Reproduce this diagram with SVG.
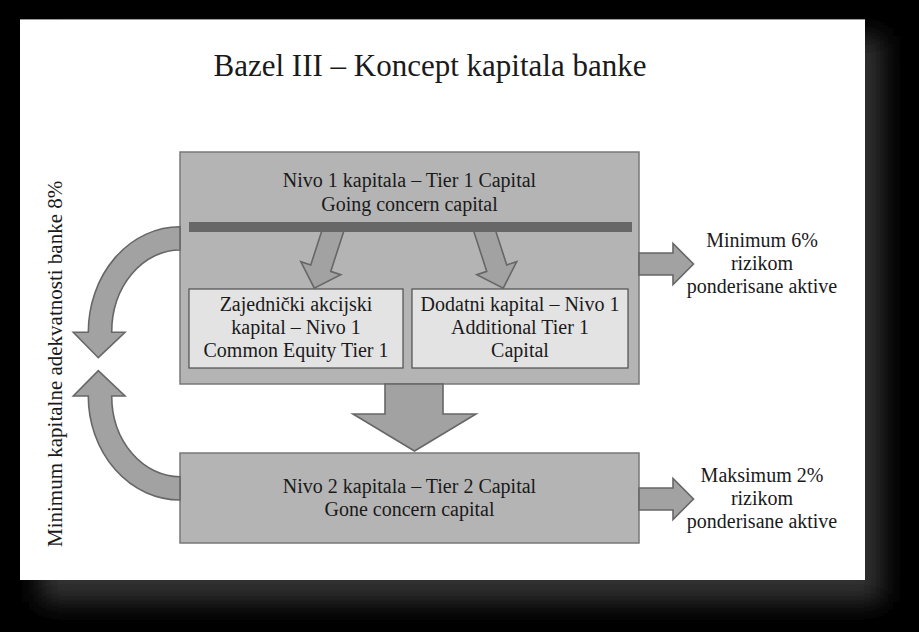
<svg xmlns="http://www.w3.org/2000/svg" width="919" height="632" viewBox="0 0 919 632">
<defs>
<filter id="shadow" x="-10%" y="-10%" width="130%" height="130%">
<feGaussianBlur stdDeviation="12"/>
</filter>
<style>
text{font-family:"Liberation Serif","Times New Roman",serif;fill:#1a1a1a;}
.t{font-size:20px;text-anchor:middle;}
.title{font-size:31px;text-anchor:middle;}
.box{fill:#b4b4b4;stroke:#787878;stroke-width:1.5;}
.inner{fill:#e3e3e3;stroke:#4e4e4e;stroke-width:1.2;}
.arr{fill:#a2a2a2;stroke:#676767;stroke-width:1.6;stroke-linejoin:miter;}
.bar{fill:#676767;}
</style>
</defs>
<rect x="0" y="0" width="919" height="632" fill="#000"/>
<rect x="40" y="36" width="842" height="566" fill="#333" filter="url(#shadow)"/>
<rect x="20" y="19" width="845" height="561" fill="#fff"/>
<line x1="20" y1="19.5" x2="865" y2="19.5" stroke="#999" stroke-width="1"/>

<text class="title" x="430" y="76">Bazel III – Koncept kapitala banke</text>

<g id="tier1">
<rect class="box" x="180" y="152" width="459" height="232"/>
<text class="t" x="409.5" y="187">Nivo 1 kapitala – Tier 1 Capital</text>
<text class="t" x="409.5" y="211">Going concern capital</text>
</g>

<g id="cet1">
<rect class="inner" x="189" y="289" width="214" height="79"/>
<text class="t" x="296" y="311">Zajednički akcijski</text>
<text class="t" x="296" y="334">kapital – Nivo 1</text>
<text class="t" x="296" y="357">Common Equity Tier 1</text>
</g>

<g id="at1">
<rect class="inner" x="412" y="289" width="216" height="79"/>
<text class="t" x="520" y="311">Dodatni kapital – Nivo 1</text>
<text class="t" x="520" y="334">Additional Tier 1</text>
<text class="t" x="520" y="357">Capital</text>
</g>

<g id="tier2">
<rect class="box" x="180" y="453" width="459" height="90"/>
<text class="t" x="409.5" y="493">Nivo 2 kapitala – Tier 2 Capital</text>
<text class="t" x="409.5" y="516">Gone concern capital</text>
</g>

<g id="min6">
<text class="t" x="762" y="247">Minimum 6%</text>
<text class="t" x="762" y="270">rizikom</text>
<text class="t" x="762" y="293">ponderisane aktive</text>
</g>

<g id="max2">
<text class="t" x="762" y="482">Maksimum 2%</text>
<text class="t" x="762" y="505">rizikom</text>
<text class="t" x="762" y="528">ponderisane aktive</text>
</g>

<g id="car8">
<text class="t" style="text-anchor:start;font-size:21px" transform="translate(62,547) rotate(-90)">Minimum kapitalne adekvatnosti banke 8%</text>
</g>

<g id="connectors">
<path class="arr" transform="translate(332.5,232) rotate(18)" d="M -10.5,-6 L 10.5,-6 L 10.5,38 L 21,38 L 0,59 L -21,38 L -10.5,38 Z"/>
<path class="arr" transform="translate(485,232) rotate(-18)" d="M -10.5,-6 L 10.5,-6 L 10.5,38 L 21,38 L 0,59 L -21,38 L -10.5,38 Z"/>
<path class="arr" d="M 639,253 H 673 V 243.5 L 693.5,264 L 673,284.5 V 275 H 639 Z"/>
<path class="arr" d="M 639,488 H 673 V 478.5 L 693.5,499 L 673,519.5 V 510 H 639 Z"/>
<path class="arr" d="M 385,384 H 443 V 414 H 476 L 414.5,451 L 353,414 H 385 Z"/>
<path class="arr" d="M 180,226.7 A 91.7 105.6 0 0 0 88.3,332.3 L 73.3,332.3 L 98.3,357.7 L 125,332.3 L 111.7,332.3 A 68.3 82.3 0 0 1 180,250 Z"/>
<path class="arr" d="M 180,500 A 91.7 104 0 0 1 88.3,396 L 73.3,396 L 98.3,370.7 L 125,396 L 111.7,396 A 68.3 80.7 0 0 0 180,476.7 Z"/>
</g>

<g id="tier1-divider">
<rect class="bar" x="189" y="222" width="443" height="10"/>
</g>
</svg>
